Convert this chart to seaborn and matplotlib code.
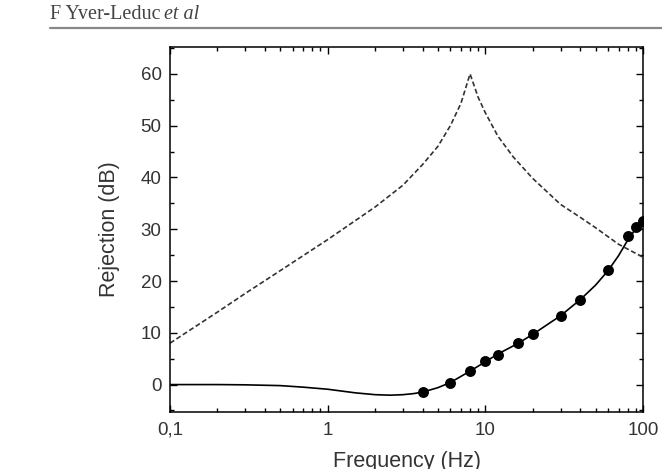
import numpy as np
import pandas as pd
import matplotlib
matplotlib.use('Agg')
import matplotlib.pyplot as plt
import seaborn as sns
from matplotlib.ticker import FixedLocator, FixedFormatter, MultipleLocator

# measured rejection (dots)
meas_freq = [4, 6, 8, 10, 12, 16, 20, 30, 40, 60, 80, 90, 100]
meas_rej = [-1.5, 0.4, 2.6, 4.6, 5.7, 8.0, 9.7, 13.3, 16.3, 22.1, 28.6, 30.4, 31.6]

# model curve (solid)
model_freq = [0.1, 0.2, 0.3, 0.5, 0.7, 1.0, 1.5, 2.0, 2.5, 3.0, 3.5, 4.0, 5.0, 6.0,
              8.0, 10, 12, 16, 20, 30, 40, 50, 60, 70, 80, 90, 100]
model_rej = [0.0, 0.0, -0.05, -0.2, -0.5, -0.9, -1.6, -1.95, -2.05, -1.95, -1.75, -1.45,
             -0.6, 0.4, 2.6, 4.4, 5.9, 7.9, 9.7, 13.3, 16.4, 19.2, 22.0, 24.9, 27.9, 30.1, 32.0]

# passive isolation (dashed)
pass_freq = [0.1, 0.2, 0.3, 0.5, 1.0, 2.0, 3.0, 4.0, 5.0, 6.0, 7.0, 8.0, 9.0, 10,
             12, 15, 20, 30, 40, 50, 70, 100]
pass_rej = [8.0, 14.0, 17.6, 22.0, 28.0, 34.3, 38.5, 42.5, 46.0, 50.0, 54.3, 60.0, 55.5,
            52.5, 48.0, 44.0, 39.8, 34.8, 32.3, 30.3, 27.1, 24.6]

xticks = [0.1, 1, 10, 100]
xtick_labels = ['0,1', '1', '10', '100']
yticks = [0, 10, 20, 30, 40, 50, 60]

sns.set_theme(style='ticks')
plt.rcParams['font.family'] = ['Liberation Sans', 'DejaVu Sans']

fig = plt.figure(figsize=(6.62, 4.69), dpi=100)
ax = fig.add_axes([0.2568, 0.1215, 0.7145, 0.7783])

df_pass = pd.DataFrame({'f': pass_freq, 'r': pass_rej})
df_model = pd.DataFrame({'f': model_freq, 'r': model_rej})
df_meas = pd.DataFrame({'f': meas_freq, 'r': meas_rej})

sns.lineplot(data=df_pass, x='f', y='r', ax=ax, color='#333333', lw=1.2,
             linestyle=(0, (3, 1.6)), sort=False)
sns.lineplot(data=df_model, x='f', y='r', ax=ax, color='black', lw=1.2, sort=False)
sns.scatterplot(data=df_meas, x='f', y='r', ax=ax, color='black', s=62,
                edgecolor='black', linewidth=0, zorder=3)

ax.set_xscale('log')
ax.set_xlim(0.1, 100)
ax.set_ylim(-5.3, 65.2)
ax.xaxis.set_major_locator(FixedLocator(xticks))
ax.xaxis.set_major_formatter(FixedFormatter(xtick_labels))
ax.yaxis.set_major_locator(FixedLocator(yticks))
ax.yaxis.set_minor_locator(MultipleLocator(5))

ax.tick_params(which='both', direction='in', top=True, right=True, colors='black',
               width=1.0)
ax.tick_params(which='major', length=5, labelsize=13.5)
ax.tick_params(which='minor', length=2.8)
ax.tick_params(axis='x', which='major', pad=7)
ax.tick_params(axis='y', which='major', pad=6)
for lab in ax.get_xticklabels() + ax.get_yticklabels():
    lab.set_color('#333333')

for sp in ax.spines.values():
    sp.set_color('black')
    sp.set_linewidth(1.1)

ax.set_xlabel('Frequency (Hz)', fontsize=15.5, color='#333333', labelpad=9)
ax.set_ylabel('Rejection (dB)', fontsize=15.5, color='#333333', labelpad=15)

# running header
serif = ['Liberation Serif', 'DejaVu Serif']
t1 = fig.text(50 / 662, 1 - 19 / 469, 'F Yver-Leduc', fontsize=14.5, color='#444444',
              family=serif, ha='left', va='baseline')
fig.canvas.draw()
bb = t1.get_window_extent(renderer=fig.canvas.get_renderer())
x2 = (bb.x1 + 4) / fig.bbox.width
fig.text(x2, 1 - 19 / 469, 'et al', fontsize=14.5, color='#444444', style='italic',
         family=serif, ha='left', va='baseline')
fig.add_artist(plt.Line2D([50 / 662, 1.0], [1 - 28 / 469, 1 - 28 / 469],
                          transform=fig.transFigure, color='#888888', lw=1.6))

fig.savefig('out.png', dpi=100)
